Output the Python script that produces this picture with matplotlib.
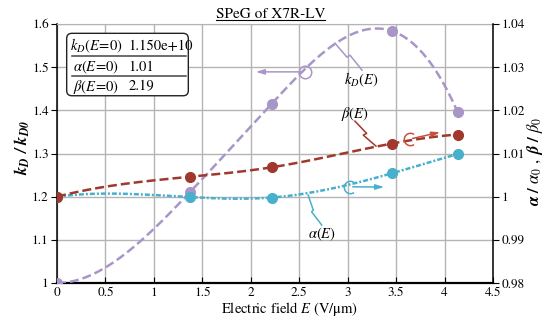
import numpy as np
import matplotlib
matplotlib.use("Agg")
import matplotlib.pyplot as plt
from matplotlib.patches import FancyBboxPatch
from matplotlib.path import Path
from matplotlib.lines import Line2D

plt.rcParams["font.family"] = ["STIXGeneral", "DejaVu Serif"]
plt.rcParams["mathtext.fontset"] = "stix"

# data
field = [0.0, 1.37, 2.215, 3.455, 4.135]
kd_ratio = [1.0, 1.21, 1.415, 1.584, 1.396]
beta_ratio = [1.0, 1.0046, 1.0068, 1.0123, 1.0144]
alpha_ratio = [1.0, 0.9999, 0.9998, 1.0054, 1.0099]

table_names = [r"$k_D(E\!=\!0)$", r"$\alpha(E\!=\!0)$", r"$\beta(E\!=\!0)$"]
table_values = ["1.150e+10", "1.01", "2.19"]

purple = "#a996c8"
red = "#a0382e"
red_light = "#c9503f"
cyan = "#48b0cc"


def spline(x, y, num=300, flat_start=False):
    # cubic spline; not-a-knot ends (or zero slope at the left end)
    x = np.asarray(x, float)
    y = np.asarray(y, float)
    n = len(x) - 1
    A = np.zeros((4 * n, 4 * n))
    b = np.zeros(4 * n)
    r = 0
    for i in range(n):
        h = x[i + 1] - x[i]
        A[r, 4 * i] = 1
        b[r] = y[i]
        r += 1
        A[r, 4 * i:4 * i + 4] = [1, h, h * h, h ** 3]
        b[r] = y[i + 1]
        r += 1
    for i in range(n - 1):
        h = x[i + 1] - x[i]
        A[r, 4 * i:4 * i + 4] = [0, 1, 2 * h, 3 * h * h]
        A[r, 4 * (i + 1) + 1] = -1
        r += 1
        A[r, 4 * i:4 * i + 4] = [0, 0, 2, 6 * h]
        A[r, 4 * (i + 1) + 2] = -2
        r += 1
    if flat_start:
        A[r, 1] = 1
    else:
        A[r, 3] = 1
        A[r, 7] = -1
    r += 1
    A[r, 4 * (n - 2) + 3] = 1
    A[r, 4 * (n - 1) + 3] = -1
    c = np.linalg.solve(A, b).reshape(n, 4)
    xs = np.linspace(x[0], x[-1], num)
    idx = np.clip(np.searchsorted(x, xs, side="right") - 1, 0, n - 1)
    t = xs - x[idx]
    ys = c[idx, 0] + c[idx, 1] * t + c[idx, 2] * t ** 2 + c[idx, 3] * t ** 3
    return xs, ys


fig = plt.figure(figsize=(5.46, 3.22), dpi=100)
ax = fig.add_axes([57 / 546, 1 - 283 / 322, 436 / 546, 259 / 322])
ax2 = ax.twinx()

# left axis: k_D
xs, ys = spline(field, kd_ratio, flat_start=True)
ax.plot(xs, ys, color=purple, lw=1.8, ls=(0, (3.6, 1.6)), zorder=3)
ax.plot(field, kd_ratio, "o", color=purple, ms=7, zorder=4)

# right axis: alpha and beta
xs, ys = spline(field, alpha_ratio)
ax2.plot(xs, ys, color=cyan, lw=1.8, ls=(0, (2.0, 0.8, 0.8, 0.8)), zorder=3)
ax2.plot(field, alpha_ratio, "o", color=cyan, ms=7, zorder=4)
xs, ys = spline(field, beta_ratio)
ax2.plot(xs, ys, color=red, lw=1.8, ls=(0, (3.6, 1.6)), zorder=5)
ax2.plot(field, beta_ratio, "o", color=red, ms=7, zorder=6)

ax.set_xlim(0, 4.5)
ax.set_ylim(1.0, 1.6)
ax2.set_ylim(0.98, 1.04)
ax.set_xticks(np.arange(0, 4.51, 0.5))
ax.set_yticks(np.arange(1.0, 1.61, 0.1))
ax2.set_yticks(np.arange(0.98, 1.041, 0.01))
fmt = matplotlib.ticker.FuncFormatter(lambda v, p: "%g" % round(v, 3))
ax.xaxis.set_major_formatter(fmt)
ax.yaxis.set_major_formatter(fmt)
ax2.yaxis.set_major_formatter(fmt)

ax.grid(True, color="#b4b4b4", lw=1.0)
ax.set_axisbelow(True)
ax.tick_params(axis="x", direction="in", length=4, labelsize=9.5, pad=3)
ax.tick_params(axis="y", direction="out", length=4, labelsize=9.5, pad=2)
ax2.tick_params(axis="y", direction="out", length=4, labelsize=9.5, pad=2)

ax.spines["top"].set_color("#b4b4b4")
ax.spines["right"].set_visible(False)
ax.spines["left"].set_linewidth(1.1)
ax.spines["bottom"].set_linewidth(1.6)
for s in ["top", "left", "bottom"]:
    ax2.spines[s].set_visible(False)
ax2.spines["right"].set_linewidth(1.1)

ax.set_xlabel(r"Electric field $E$ (V/$\mathrm{\mu}$m)", fontsize=10.5)
ax.xaxis.set_label_coords(0.534, -0.065)
ax.set_ylabel(r"$\mathbfit{k_D\ /\ k_{D0}}$", fontsize=12)
ax.yaxis.set_label_coords(-0.058, 0.525)
ax2.set_ylabel(r"$\boldsymbol{\alpha\ /\ \alpha_0\ ,\ \beta\ /\ \beta_0}$", fontsize=12, rotation=90)
ax2.yaxis.set_label_coords(1.074, 0.47)

title = ax.set_title("SPeG of X7R-LV", fontsize=11, pad=4, x=0.49)

# table box
box = FancyBboxPatch((0.0222, 0.723), 0.279, 0.241, transform=ax.transAxes,
                     boxstyle="round,pad=0,rounding_size=0.012", mutation_aspect=436 / 259,
                     facecolor="white", edgecolor="#222222", lw=1.0, zorder=7)
ax.add_patch(box)
rows_y = [0.914, 0.834, 0.758]
for name, val, yy in zip(table_names, table_values, rows_y):
    ax.text(0.0894, yy, name, transform=ax.transAxes, ha="center", va="center", fontsize=10.5, zorder=8)
    ax.text(0.164, yy, val, transform=ax.transAxes, ha="left", va="center", fontsize=10.5, zorder=8)
for yy in [0.876, 0.799]:
    ax.plot([0.0344, 0.295], [yy, yy], transform=ax.transAxes, color="#444444", lw=1.1, zorder=8)

# labels with leaders
ax.plot([2.869, 2.993, 3.024, 3.148], [1.5556, 1.5231, 1.5278, 1.4931], color=purple, lw=1.1, zorder=5)
ax.text(3.144, 1.4715, r"$k_D(E)$", ha="center", va="center", fontsize=10.5, zorder=8)
ax2.plot([3.075, 3.196, 3.161, 3.292], [1.0175, 1.01465, 1.01426, 1.01171], color=red, lw=1.1, zorder=5)
ax2.text(3.08, 1.0192, r"$\beta(E)$", ha="center", va="center", fontsize=10.5, zorder=8)
ax2.plot([2.592, 2.645, 2.628, 2.732], [1.00037, 0.9969, 0.9965, 0.99343], color=cyan, lw=1.1, zorder=5)
ax2.text(2.731, 0.99134, r"$\alpha(E)$", ha="center", va="center", fontsize=10.5, zorder=8)

# axis arrows
arc = Path.arc(55, 305)
ax.plot([2.559], [1.4891], marker="o", mfc="none", mec=purple, mew=1.1, ms=9, zorder=6)
ax.annotate("", xy=(2.023, 1.4891), xytext=(2.559, 1.4891),
            arrowprops=dict(arrowstyle="-|>,head_length=0.5,head_width=0.15", color=purple, lw=1.1), zorder=6)
ax2.plot([3.643], [1.01335], marker=arc, mfc="none", mec=red_light, mew=1.1, ms=9, zorder=7)
ax2.annotate("", xy=(3.983, 1.01507), xytext=(3.643, 1.01335),
             arrowprops=dict(arrowstyle="-|>,head_length=0.5,head_width=0.15", color=red_light, lw=1.1), zorder=7)
ax2.plot([3.024], [1.00229], marker=arc, mfc="none", mec=cyan, mew=1.1, ms=9, zorder=7)
ax2.annotate("", xy=(3.406, 1.00222), xytext=(3.024, 1.00229),
             arrowprops=dict(arrowstyle="-|>,head_length=0.5,head_width=0.15", color=cyan, lw=1.1), zorder=7)

# underline title
fig.canvas.draw()
bb = title.get_window_extent().transformed(fig.transFigure.inverted())
fig.add_artist(Line2D([bb.x0, bb.x1], [bb.y0 + 0.004, bb.y0 + 0.004], color="black", lw=0.8))

fig.savefig("out.png", dpi=100)
